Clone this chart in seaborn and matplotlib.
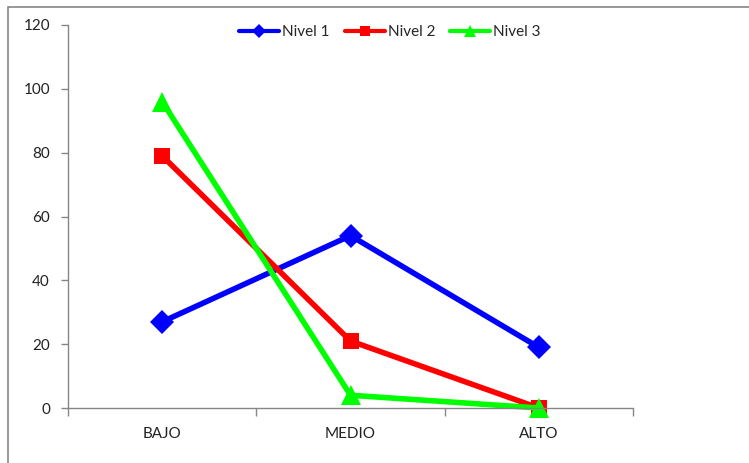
import pandas as pd
import seaborn as sns
import matplotlib.pyplot as plt
from matplotlib.patches import Rectangle

# === Data ===
categorias = ["BAJO", "MEDIO", "ALTO"]
nivel_1 = [27, 54, 19]
nivel_2 = [79, 21, 0]
nivel_3 = [96, 4, 0]

series = ["Nivel 1", "Nivel 2", "Nivel 3"]
colores = {"Nivel 1": "#0000FF", "Nivel 2": "#FF0000", "Nivel 3": "#00FF00"}
marcadores = {"Nivel 1": "D", "Nivel 2": "s", "Nivel 3": "^"}

df = pd.DataFrame({
    "pos": list(range(len(categorias))) * 3,
    "valor": nivel_1 + nivel_2 + nivel_3,
    "serie": [s for s in series for _ in categorias],
})

sns.set_style("white")
plt.rcParams["font.family"] = ["Lato", "DejaVu Sans"]

fig = plt.figure(figsize=(7.49, 4.63), dpi=100)
ax = fig.add_axes([68 / 749, 1 - 408 / 463, (633 - 68) / 749, (408 - 25) / 463])

# outer chart border
fig.patches.append(Rectangle((8 / 749, -0.05), 1.1, 1 - 7 / 463 + 0.05,
                             transform=fig.transFigure, fill=False,
                             edgecolor="#868686", linewidth=1.2))

sns.lineplot(data=df, x="pos", y="valor", hue="serie", style="serie",
             palette=colores, markers=marcadores, dashes=False,
             linewidth=4, markersize=12, markeredgewidth=0, clip_on=False, ax=ax)

# triangles look bigger in the original
for ln in ax.lines:
    if ln.get_marker() == "^":
        ln.set_markersize(15)

ax.set_xlim(-0.5, 2.5)
ax.set_ylim(0, 120)
ax.set_yticks(range(0, 121, 20))
ax.set_xticks(range(len(categorias)))
ax.set_xticklabels(categorias)
ax.set_xticks([-0.5, 0.5, 1.5, 2.5], minor=True)
ax.tick_params(axis="x", which="major", length=0, pad=14, labelsize=11, colors="#222222")
ax.tick_params(axis="x", which="minor", length=6, width=1, color="#868686", direction="out", bottom=True)
ax.tick_params(axis="y", length=5, width=1, color="#868686", direction="out", left=True,
               labelsize=11, labelcolor="#222222", pad=8)
ax.set_xlabel("")
ax.set_ylabel("")

for side in ["top", "right"]:
    ax.spines[side].set_visible(False)
for side in ["left", "bottom"]:
    ax.spines[side].set_color("#868686")
    ax.spines[side].set_linewidth(1)

leg = ax.legend(title=None, ncol=3, frameon=False, loc="upper center",
                bbox_to_anchor=(0.57, 1.035), fontsize=11, handlelength=2.6,
                columnspacing=1.0, handletextpad=0.2, markerscale=0.6)
for h in leg.legend_handles:
    h.set_linewidth(3)

plt.savefig("out.png", dpi=100)
